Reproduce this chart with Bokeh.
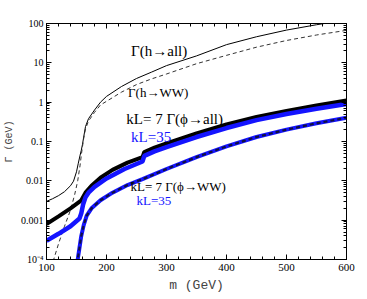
import math
from bokeh.plotting import figure
from bokeh.models import FixedTicker, LinearAxis, LogAxis, CustomJSTickFormatter, Label
from bokeh.embed import file_html
from bokeh.resources import INLINE

# ---- data ----
m_h_all = [100, 110, 120, 130, 140, 145, 150, 153, 156, 158, 160, 162, 165, 170, 180, 190, 200,
           225, 250, 275, 300, 350, 400, 450, 500, 550, 600]
gamma_h_all = [0.003, 0.0035, 0.0042, 0.0053, 0.0075, 0.0098, 0.017, 0.028, 0.045, 0.06, 0.085,
               0.13, 0.24, 0.38, 0.63, 1.0, 1.4, 2.5, 4.0, 5.8, 8.5, 15, 29, 46, 68, 93, 123]

m_h_ww = [108, 112, 120, 130, 140, 147, 152, 156, 158, 160, 162, 165, 170, 180, 190, 200,
          225, 250, 275, 300, 350, 400, 450, 500, 550, 600]
gamma_h_ww = [6e-5, 1e-4, 2.5e-4, 7e-4, 0.0018, 0.0045, 0.01, 0.025, 0.045, 0.075, 0.12, 0.21,
              0.33, 0.55, 0.85, 1.05, 1.8, 2.8, 3.9, 5.2, 9.5, 15.5, 25, 37, 51, 67]

m_phi_all = [100, 120, 140, 158, 165, 175, 190, 210, 235, 260, 263, 280, 300, 350, 400, 450,
             500, 550, 600]
gamma_phi_all_kl7 = [8e-4, 1.25e-3, 2e-3, 3.2e-3, 5e-3, 7.5e-3, 0.012, 0.019, 0.029, 0.04,
                     0.054, 0.07, 0.09, 0.16, 0.27, 0.42, 0.6, 0.82, 1.1]

m_phi_all35 = [100, 120, 140, 155, 158, 161, 165, 170, 180, 200, 230, 260, 263, 280, 300, 350,
               400, 450, 500, 550, 600]
gamma_phi_all_kl35 = [3e-4, 4.5e-4, 7e-4, 1.1e-3, 1.5e-3, 2.5e-3, 3.8e-3, 5e-3, 7e-3, 0.0115,
                      0.02, 0.031, 0.043, 0.056, 0.072, 0.13, 0.22, 0.35, 0.5, 0.68, 0.9]

m_phi_ww = [150, 152, 155, 158, 162, 167, 175, 190, 210, 235, 260, 300, 350, 400, 450, 500,
            550, 600]
gamma_phi_ww = [5e-5, 1e-4, 2e-4, 4e-4, 7.5e-4, 1.3e-3, 2e-3, 3.2e-3, 5e-3, 7.8e-3, 0.011,
                0.02, 0.04, 0.075, 0.13, 0.2, 0.29, 0.4]

x_ticks = [100, 200, 300, 400, 500, 600]
x_minor = list(range(100, 601, 20))
y_ticks = [1e-4, 1e-3, 1e-2, 1e-1, 1, 10, 100]
y_minor = [k * 10.0 ** e for e in range(-4, 2) for k in range(1, 10)] + [100]

# ---- figure ----
p = figure(width=360, height=295, y_axis_type="log", x_range=(100, 600), y_range=(1e-4, 100),
           output_backend="svg", toolbar_location=None,
           min_border_left=45, min_border_top=23, min_border_right=14, min_border_bottom=32)
p.grid.visible = False
p.outline_line_color = "black"
p.outline_line_alpha = 1
p.background_fill_color = "white"
p.border_fill_color = "white"

serif = "Liberation Serif"

fmt = CustomJSTickFormatter(code="""
if (tick < 0.0005) return '10\u207b\u2074';
return String(Number(tick.toPrecision(3)));
""")

xa = p.xaxis[0]
xa.ticker = FixedTicker(ticks=x_ticks, minor_ticks=x_minor)
ya = p.yaxis[0]
ya.ticker = FixedTicker(ticks=y_ticks, minor_ticks=y_minor)
ya.formatter = fmt

for ax in (xa, ya):
    ax.major_tick_in = 5
    ax.major_tick_out = 0
    ax.minor_tick_in = 3
    ax.minor_tick_out = 0
    ax.major_label_text_font = serif
    ax.major_label_text_font_size = "11px"
    ax.major_label_text_color = "black"
    ax.axis_line_color = "black"
    ax.major_tick_line_color = "black"
    ax.minor_tick_line_color = "black"
ya.major_label_text_font_size = "10px"
ya.major_label_standoff = 3
xa.major_label_standoff = 4
xa.axis_label = "m (GeV)"
xa.axis_label_text_font = "Liberation Mono"
xa.axis_label_text_font_size = "13px"
xa.axis_label_text_font_style = "normal"
xa.axis_label_standoff = 4
ya.axis_label = "\u0393 (GeV)"
ya.axis_label_text_font = "Liberation Mono"
ya.axis_label_text_font_size = "10px"
ya.axis_label_text_font_style = "normal"
ya.axis_label_standoff = 3

top = LinearAxis(ticker=FixedTicker(ticks=x_ticks, minor_ticks=x_minor),
                 major_label_text_font_size="1px", major_label_text_color=None,
                 major_tick_in=5, major_tick_out=0,
                 minor_tick_in=3, minor_tick_out=0, major_label_standoff=0)
right = LogAxis(ticker=FixedTicker(ticks=y_ticks, minor_ticks=y_minor),
                major_label_text_font_size="1px", major_label_text_color=None,
                major_tick_in=5, major_tick_out=0,
                minor_tick_in=3, minor_tick_out=0, major_label_standoff=0)
p.add_layout(top, "above")
p.add_layout(right, "right")

# ---- curves ----
p.line(m_h_all, gamma_h_all, line_color="black", line_width=1)
p.line(m_h_ww, gamma_h_ww, line_color="#333333", line_width=1, line_dash="4 3")
p.line(m_phi_all, gamma_phi_all_kl7, line_color="black", line_width=4)
p.line(m_phi_all35, gamma_phi_all_kl35, line_color="#1414ff", line_width=4.5)
p.line(m_phi_ww, gamma_phi_ww, line_color="#1414ff", line_width=4)
p.line(m_phi_ww, gamma_phi_ww, line_color="#101040", line_width=2.2, line_dash="4 3")

# ---- labels ----
def lab(x, y, t, size, color="black"):
    p.add_layout(Label(x=x, y=y, text=t, text_font=serif, text_font_size=size,
                       text_color=color, text_baseline="middle", text_align="left"))

lab(241, 20, "\u0393(h\u2192all)", "15px")
lab(236, 1.78, "\u0393(h\u2192WW)", "13px")
lab(233, 0.376, "kL= 7 \u0393(\u03d5\u2192all)", "15px")
lab(241, 0.133, "kL=35", "15px", "#1414ff")
lab(240, 0.0071, "kL= 7 \u0393(\u03d5\u2192WW)", "13px")
lab(250, 0.00316, "kL=35", "13px", "#1414ff")

open("out.html", "w").write(file_html(p, INLINE))
